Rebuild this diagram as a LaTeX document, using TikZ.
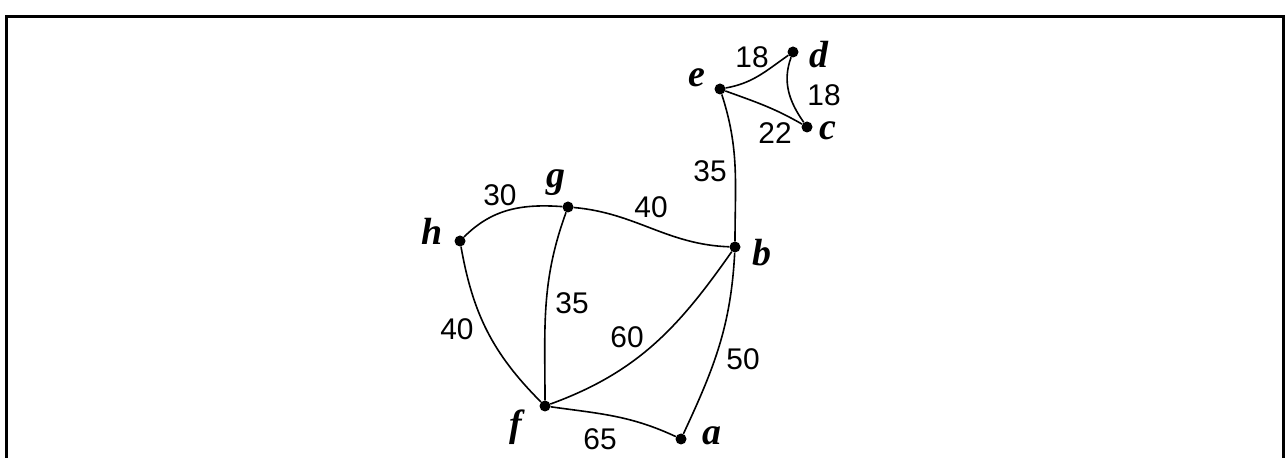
\documentclass[tikz,border=0pt]{standalone}
\usepackage{fontspec}
\setmainfont{Liberation Sans}
\newfontfamily\vtxfont{Liberation Serif}
\usetikzlibrary{positioning}

\tikzset{
  vtx/.style={circle,fill=black,inner sep=0pt,minimum size=11bp},
  vname/.style={font=\fontsize{38}{38}\selectfont\vtxfont\bfseries\itshape},
  wt/.style={font=\fontsize{30}{30}\selectfont},
  road/.style={line width=1.6bp}
}

\begin{document}
\begin{tikzpicture}[x=1bp,y=-1bp]
\useasboundingbox (0,0) rectangle (1287,458);
\draw [line width=3bp] (6,470) -- (6,17) -- (1283,17) -- (1283,470);
% vertices
\node[vtx] (a) at (681,439) {};
\node[vtx] (b) at (735,247) {};
\node[vtx] (c) at (807,127) {};
\node[vtx] (d) at (793,52) {};
\node[vtx] (e) at (720,89) {};
\node[vtx] (f) at (545,406) {};
\node[vtx] (g) at (568,207) {};
\node[vtx] (h) at (460,241) {};
\node[vname] (la) at (712,436) {a};
\node[vname] (lb) at (762,253) {b};
\node[vname] (lc) at (828,131) {c};
\node[vname] (ld) at (819,55) {d};
\node[vname] (le) at (697,78) {e};
\node[vname] (lf) at (516,427) {f};
\node[vname] (lg) at (556,183) {g};
\node[vname] (lh) at (432,231) {h};
% roads
\draw (e) edge[road,out=10,in=-145] (d);
\draw (d) edge[road,out=-110,in=125] (c);
\draw (e) edge[road,out=-20,in=150] (c);
\draw (e) edge[road,out=-72,in=90] (b);
\draw (h) edge[road,out=45,in=176] (g);
\draw (g) edge[road,out=-5,in=178] (b);
\draw (h) edge[road,out=-80,in=135] (f);
\draw (g) edge[road,out=-110,in=90] (f);
\draw (f) edge[road,out=20,in=-125] (b);
\draw (b) edge[road,out=-93,in=65] (a);
\draw (f) edge[road,out=-8,in=155] (a);
% weights
\node[wt] (wed) at (752,57) {18};
\node[wt] (wdc) at (824,95) {18};
\node[wt] (wec) at (775,133) {22};
\node[wt] (web) at (710,171) {35};
\node[wt] (whg) at (500,195) {30};
\node[wt] (wgb) at (651,207) {40};
\node[wt] (whf) at (457,329) {40};
\node[wt] (wgf) at (572,303) {35};
\node[wt] (wfb) at (627,337) {60};
\node[wt] (wba) at (743,359) {50};
\node[wt] (wfa) at (600,439) {65};
\end{tikzpicture}
\end{document}
